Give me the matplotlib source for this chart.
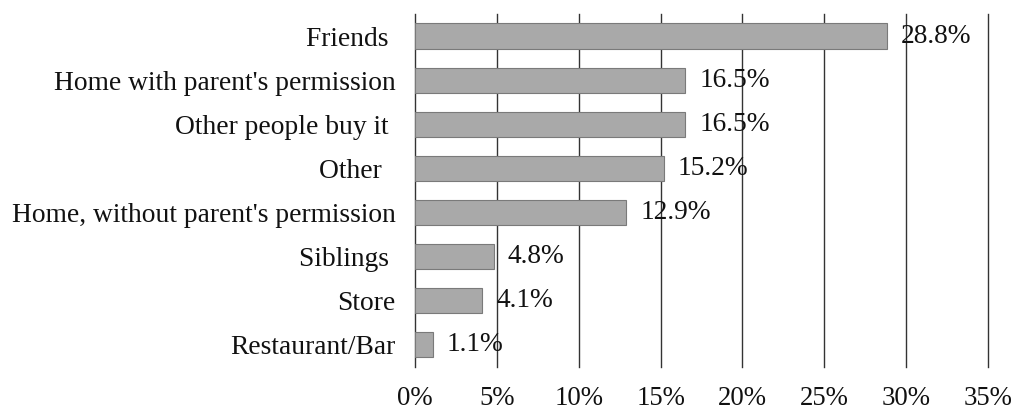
import matplotlib.pyplot as plt
import numpy as np

# DATA
categories = ['Friends ', "Home with parent's permission", 'Other people buy it ', 'Other  ',
              "Home, without parent's permission", 'Siblings ', 'Store', 'Restaurant/Bar']
values = [28.8, 16.5, 16.5, 15.2, 12.9, 4.8, 4.1, 1.1]
xticks = [0, 5, 10, 15, 20, 25, 30, 35]

plt.rcParams['font.family'] = ['Liberation Serif', 'DejaVu Serif']

fig = plt.figure(figsize=(10.24, 4.15), dpi=100)
ax = fig.add_axes([0.4053, 0.1157, 0.5596, 0.8506])

y = np.arange(len(categories))
ax.barh(y, values, height=0.57, color='#a9a9a9', edgecolor='#7a7a7a', linewidth=0.8, zorder=2)

for yy, v in zip(y, values):
    ax.annotate('%.1f%%' % v, (v, yy), xytext=(10, 0), textcoords='offset points',
                ha='left', va='center', fontsize=19.7, color='#111111', zorder=3)

ax.set_xlim(0, 35)
ax.set_ylim(len(categories) - 0.5, -0.5)
ax.set_xticks(xticks)
ax.set_xticklabels(['%d%%' % t for t in xticks], fontsize=19.3, color='#111111')
ax.set_yticks(y)
ax.set_yticklabels(categories, fontsize=19.8, color='#111111')
ax.tick_params(axis='both', length=0)
ax.tick_params(axis='x', pad=14)
ax.tick_params(axis='y', pad=14)

# vertical gridlines, no frame
for s in ax.spines.values():
    s.set_visible(False)
ax.xaxis.grid(True, color='#333333', linewidth=1.0, zorder=0)
for gl in ax.get_xgridlines():
    gl.set_clip_on(False)
ax.set_axisbelow(True)

fig.savefig('out.png', dpi=100)
